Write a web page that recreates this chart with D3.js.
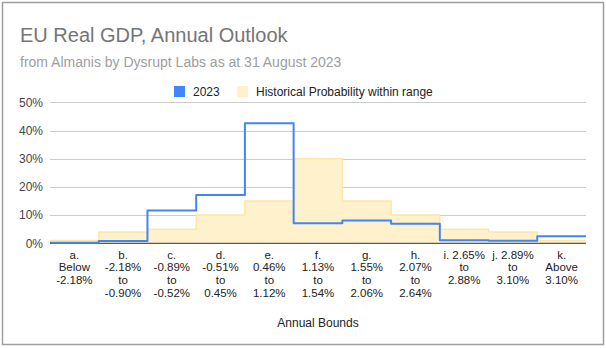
<!DOCTYPE html>
<html>
<head>
<meta charset="utf-8">
<script src="https://cdn.jsdelivr.net/npm/d3@7"></script>
<style>
  html, body { margin: 0; padding: 0; background: #fff; }
  svg { display: block; font-family: Arial, "Liberation Sans", sans-serif; }
</style>
</head>
<body>
<svg id="chart" width="606" height="348"></svg>
<script>
const categories = ["a.", "b.", "c.", "d.", "e.", "f.", "g.", "h.", "i.", "j.", "k."];
const categoryLabels = [
  ["a.", "Below", "-2.18%"],
  ["b.", "-2.18%", "to", "-0.90%"],
  ["c.", "-0.89%", "to", "-0.52%"],
  ["d.", "-0.51%", "to", "0.45%"],
  ["e.", "0.46%", "to", "1.12%"],
  ["f.", "1.13%", "to", "1.54%"],
  ["g.", "1.55%", "to", "2.06%"],
  ["h.", "2.07%", "to", "2.64%"],
  ["i. 2.65%", "to", "2.88%"],
  ["j. 2.89%", "to", "3.10%"],
  ["k.", "Above", "3.10%"]
];
const forecast2023 = [0.2, 0.8, 11.6, 17.1, 42.6, 7.1, 8.1, 6.9, 1.1, 0.9, 2.5];
const historical = [1, 4, 5, 10, 15, 30, 15, 10, 5, 4, 1];
const yTicks = [0, 10, 20, 30, 40, 50];
const seriesNames = ["2023", "Historical Probability within range"];
const titleText = "EU Real GDP, Annual Outlook";
const subtitleText = "from Almanis by Dysrupt Labs as at 31 August 2023";
const xAxisTitle = "Annual Bounds";

const svg = d3.select("#chart");
const plotLeft = 50, plotRight = 586, plotTop = 102.3, plotBottom = 243.3;

// outer border
svg.append("rect").attr("x", 2.5).attr("y", 2.5).attr("width", 601).attr("height", 342)
  .attr("fill", "#fff").attr("stroke", "#9e9e9e").attr("stroke-width", 1.5);

svg.append("text").attr("x", 20).attr("y", 42).attr("font-size", 20).attr("fill", "#757575").text(titleText);
svg.append("text").attr("x", 20).attr("y", 67).attr("font-size", 14).attr("fill", "#9e9e9e").text(subtitleText);

const x = d3.scaleBand().domain(categories).range([plotLeft, plotRight]).padding(0);
const y = d3.scaleLinear().domain([0, 50]).range([plotBottom, plotTop]);

// gridlines
svg.append("g").selectAll("line").data(yTicks.filter(t => t > 0)).join("line")
  .attr("x1", plotLeft).attr("x2", plotRight)
  .attr("y1", d => Math.round(y(d)) + 0.5).attr("y2", d => Math.round(y(d)) + 0.5)
  .attr("stroke", "#cccccc").attr("stroke-width", 1);

// y axis labels
svg.append("g").selectAll("text").data(yTicks).join("text")
  .attr("x", 43).attr("y", d => y(d)).attr("dy", "0.35em")
  .attr("text-anchor", "end").attr("font-size", 12).attr("fill", "#444").text(d => d + "%");

function stepPoints(vals) {
  const pts = vals.map((v, i) => [x(categories[i]), v]);
  pts.push([x(categories[categories.length - 1]) + x.bandwidth(), vals[vals.length - 1]]);
  return pts;
}

// historical stepped area
const histPts = stepPoints(historical);
svg.append("path").datum(histPts)
  .attr("d", d3.area().x(d => d[0]).y0(y(0)).y1(d => y(d[1])).curve(d3.curveStepAfter))
  .attr("fill", "#fef1cc");
svg.append("path").datum(histPts)
  .attr("d", d3.line().x(d => d[0]).y(d => y(d[1])).curve(d3.curveStepAfter))
  .attr("fill", "none").attr("stroke", "#fde6a6").attr("stroke-width", 1.5);

// baseline
svg.append("line").attr("x1", plotLeft).attr("x2", plotRight).attr("y1", y(0)).attr("y2", y(0))
  .attr("stroke", "#333").attr("stroke-width", 1);

// 2023 stepped line
svg.append("path").datum(stepPoints(forecast2023))
  .attr("d", d3.line().x(d => d[0]).y(d => y(d[1])).curve(d3.curveStepAfter))
  .attr("fill", "none").attr("stroke", "#4285f4").attr("stroke-width", 2)
  .attr("stroke-linejoin", "round");

// x labels, one text element per line
const xl = svg.append("g").attr("font-size", 11.5).attr("fill", "#222");
categories.forEach((c, i) => {
  categoryLabels[i].forEach((line, j) => {
    xl.append("text").attr("text-anchor", "middle")
      .attr("x", x(c) + x.bandwidth() / 2).attr("y", 258.5 + j * 12.9).text(line);
  });
});

svg.append("text").attr("x", 318).attr("y", 327).attr("text-anchor", "middle")
  .attr("font-size", 12).attr("fill", "#222").text(xAxisTitle);

// legend
const legend = svg.append("g");
legend.append("rect").attr("x", 174).attr("y", 86).attr("width", 11).attr("height", 11).attr("fill", "#4285f4");
legend.append("text").attr("x", 193).attr("y", 96).attr("font-size", 12).attr("fill", "#222").text(seriesNames[0]);
legend.append("rect").attr("x", 237).attr("y", 86).attr("width", 11).attr("height", 11).attr("fill", "#fef1cc");
legend.append("text").attr("x", 256).attr("y", 96).attr("font-size", 12).attr("fill", "#222").text(seriesNames[1]);
</script>
</body>
</html>
